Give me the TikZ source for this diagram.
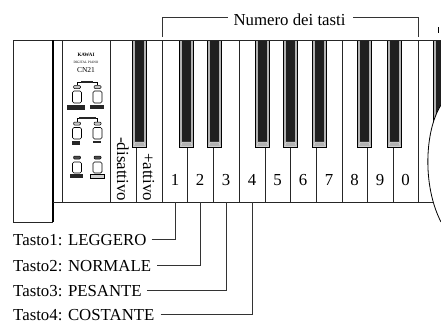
\documentclass[tikz,border=0pt]{standalone}
\usepackage{fontspec}
\setmainfont{Liberation Serif}
\begin{document}
\begin{tikzpicture}[x=1pt,y=-1pt,
  kline/.style={draw=black!85, line width=0.9pt},
  lbl/.style={font=\fontsize{16.8}{16.8}\selectfont, inner sep=0pt, text height=11pt, text depth=0pt},
  keynum/.style={lbl, anchor=base},
  lead/.style={draw=black!80, line width=0.8pt},
  pbutton/.style={draw=black, line width=0.7pt, fill=white, rounded corners=1.5pt},
  plamp/.style={draw=black, line width=0.5pt, fill=gray!45, rounded corners=1pt},
  ptag/.style={fill=black!85},
]
\useasboundingbox (0,0) rectangle (441,324);

% white key boundaries
\foreach \x in {110,136,162,187.5,213,239,265,290,316,342,367,393,418}
  \draw[kline] (\x,40) -- (\x,202);

% black keys with bevelled front
\foreach \x in {132,179,207,255,283,312,357,387,433}{
  \fill[black] (\x,40) rectangle (\x+15,148);
  \fill[gray!60] (\x+1.2,40) rectangle (\x+13.8,146.8);
  \fill[black!88] (\x+3.2,40) rectangle (\x+11.8,142);
  \draw[gray!25, line width=0.5pt] (\x+1.6,146.4) -- (\x+3.2,142) -- (\x+11.8,142) -- (\x+13.4,146.4) -- cycle;
}

% case outline and control panel
\draw[kline] (13,40) -- (441,40);
\draw[kline] (13,40) -- (13,222) -- (53,222);
\draw[draw=black, line width=1.8pt] (53,40) -- (53,222);
\draw[kline] (62,40) -- (62,202);
\draw[kline] (53,202) -- (433,202);

% right-hand cover curve
\fill[white] (441,105) .. controls (425,130) and (422,185) .. (441,222) -- cycle;
\draw[line width=0.8pt] (441,105) .. controls (425,130) and (422,185) .. (441,222);
\draw[line width=0.6pt] (438.5,27) -- (438.5,33);

% panel lettering
\node[inner sep=0pt, font=\fontsize{5}{5}\selectfont\bfseries] (brand) at (86,55) {KAWAI};
\node[inner sep=0pt, font=\fontsize{3.4}{3.4}\selectfont] (model) at (86,62) {DIGITAL PIANO};
\node[inner sep=0pt, font=\fontsize{7.5}{7.5}\selectfont] (cn) at (86,70) {CN21};

% button group 1
\draw[line width=0.8pt] (77,85) -- (77,82) -- (97.5,82) -- (97.5,85);
\fill[ptag] (81,80.5) rectangle (93,83.2);
\draw[plamp] (73.5,85.5) rectangle (80.5,88.5);
\draw[plamp] (94,85.5) rectangle (101,88.5);
\draw[pbutton] (72.5,91) rectangle (81.5,103);
\draw[pbutton] (93,91) rectangle (102,103);
\fill[ptag] (67,105) rectangle (85,110);
\fill[ptag] (90,105) rectangle (104,109);

% button group 2
\draw[line width=0.8pt] (77,122) -- (77,118) -- (97.5,118) -- (97.5,122);
\fill[ptag] (79,116.5) rectangle (96,119.2);
\draw[plamp] (73.5,122) rectangle (80.5,125);
\draw[plamp] (94,122) rectangle (101,125);
\draw[pbutton] (72.5,127.5) rectangle (81.5,139);
\draw[pbutton] (93,127.5) rectangle (102,139);
\fill[ptag] (72,140.5) rectangle (80,145);
\fill[ptag] (93,141) rectangle (101,143);

% button group 3
\draw[plamp, fill=black!70] (73.5,156) rectangle (80.5,159);
\draw[plamp, fill=black!70] (94,156) rectangle (101,159);
\draw[pbutton] (72.5,162) rectangle (81.5,173);
\draw[pbutton] (93,162) rectangle (102,173);
\fill[ptag] (70,174) rectangle (83,178);
\draw[line width=0.6pt, fill=gray!35] (90,174) rectangle (104,178.5);

% key labels
\node[lbl, rotate=-90, anchor=east] (off) at (122.5,201) {-disattivo};
\node[lbl, rotate=-90, anchor=east] (on) at (148.5,201) {+attivo};

\node[keynum] (k1) at (175,185.5) {1};
\node[keynum] (k2) at (200,185.5) {2};
\node[keynum] (k3) at (226,185.5) {3};
\node[keynum] (k4) at (252,185.5) {4};
\node[keynum] (k5) at (277.5,185.5) {5};
\node[keynum] (k6) at (303,185.5) {6};
\node[keynum] (k7) at (329,185.5) {7};
\node[keynum] (k8) at (354.5,185.5) {8};
\node[keynum] (k9) at (380,185.5) {9};
\node[keynum] (k0) at (405.5,185.5) {0};

% key-number bracket
\coordinate (nl) at (162,37);
\coordinate (nr) at (418,37);
\node[lbl, anchor=base] (num) at (289.5,25) {Numero dei tasti};
\draw[lead] (nl) |- ([xshift=-5pt,yshift=2pt]num.west);
\draw[lead] (nr) |- ([xshift=7pt,yshift=2pt]num.east);

% touch settings
\coordinate (b1) at (175,202);
\coordinate (b2) at (200,202);
\coordinate (b3) at (226,202);
\coordinate (b4) at (252,202);
\node[lbl, anchor=base west] (t1) at (13,245.5) {Tasto1: LEGGERO};
\node[lbl, anchor=base west] (t2) at (13,271) {Tasto2: NORMALE};
\node[lbl, anchor=base west] (t3) at (13,296) {Tasto3: PESANTE};
\node[lbl, anchor=base west] (t4) at (13,320.5) {Tasto4: COSTANTE};
\draw[lead] ([xshift=5pt,yshift=0.5pt]t1.east) -| (b1);
\draw[lead] ([xshift=6pt,yshift=0.5pt]t2.east) -| (b2);
\draw[lead] ([xshift=5pt,yshift=0.5pt]t3.east) -| (b3);
\draw[lead] ([xshift=6pt,yshift=0.5pt]t4.east) -| (b4);
\end{tikzpicture}
\end{document}
